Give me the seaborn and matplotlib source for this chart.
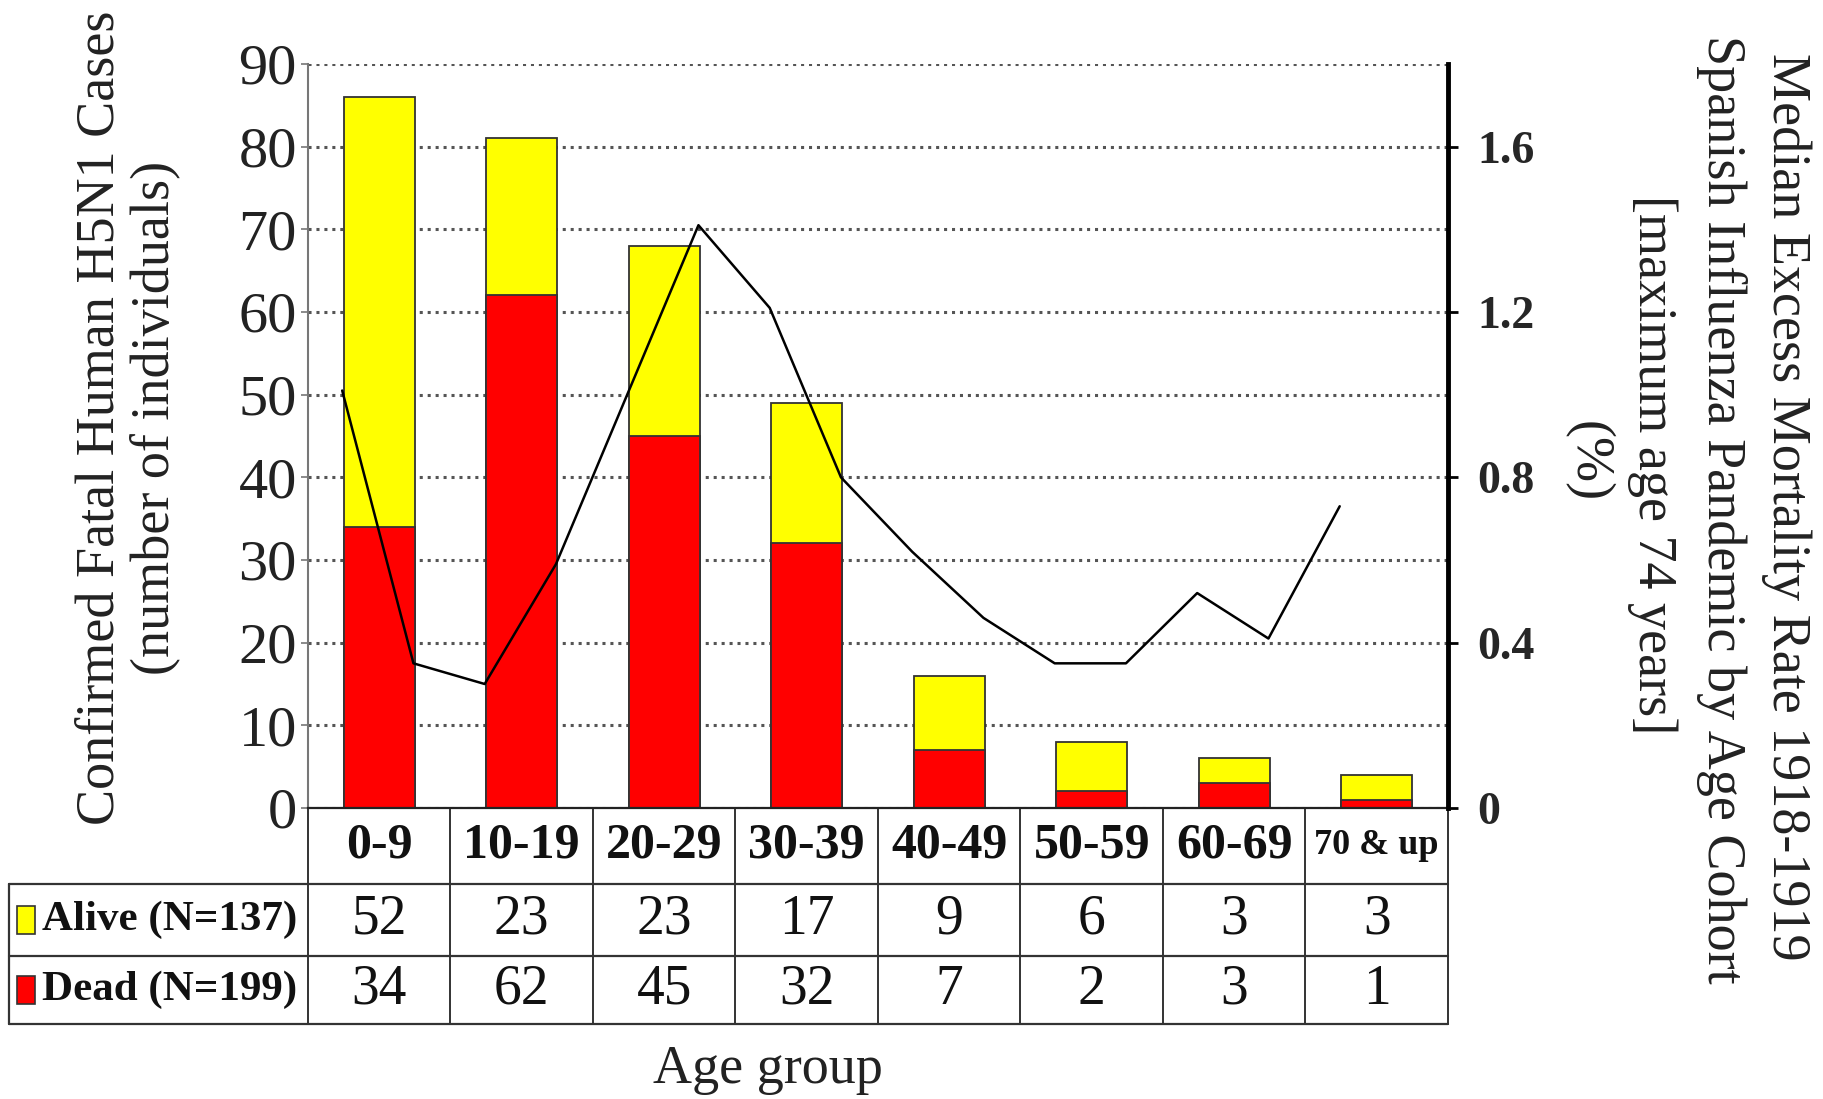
import numpy as np
import pandas as pd
import matplotlib
matplotlib.use("Agg")
import matplotlib.pyplot as plt
import matplotlib.transforms as mtransforms
from matplotlib.patches import Rectangle
from matplotlib.lines import Line2D
import seaborn as sns

# ---------------- data ----------------
age_groups = ["0-9", "10-19", "20-29", "30-39", "40-49", "50-59", "60-69", "70 & up"]
alive_counts = [52, 23, 23, 17, 9, 6, 3, 3]          # table row "Alive"
dead_counts = [34, 62, 45, 32, 7, 2, 3, 1]           # table row "Dead"
alive_bar_heights = [52, 19, 23, 17, 9, 6, 3, 3]     # yellow segments as drawn
row_labels = ["Alive (N=137)", "Dead (N=199)"]
cohort_start_age = [0, 5, 10, 15, 20, 25, 30, 35, 40, 45, 50, 55, 60, 65, 70]
excess_mortality = [1.01, 0.35, 0.30, 0.59, 1.00, 1.41, 1.21, 0.80,
                    0.62, 0.46, 0.35, 0.35, 0.52, 0.41, 0.73]
left_ticks = [0, 10, 20, 30, 40, 50, 60, 70, 80, 90]
right_ticks = [0, 0.4, 0.8, 1.2, 1.6]

# ---------------- style ----------------
sns.set_theme(style="white")
plt.rcParams["font.family"] = ["Liberation Serif", "DejaVu Serif"]

W, H = 1824, 1099
fig = plt.figure(figsize=(W / 100, H / 100), dpi=100)
# axes box in pixels
ax_l, ax_r, ax_t, ax_b = 308, 1448, 64, 808
ax = fig.add_axes([ax_l / W, 1 - ax_b / H, (ax_r - ax_l) / W, (ax_b - ax_t) / H])

df = pd.DataFrame({
    "group": age_groups,
    "total": np.array(dead_counts) + np.array(alive_bar_heights),
    "dead": dead_counts,
})
sns.barplot(data=df, x="group", y="total", color="#FFFF00", saturation=1,
            width=0.5, edgecolor="#333333", linewidth=1.3, ax=ax)
sns.barplot(data=df, x="group", y="dead", color="#FF0000", saturation=1,
            width=0.5, edgecolor="#333333", linewidth=1.3, ax=ax)

ax.set_xlim(-0.5, 7.5)
ax.set_ylim(0, 90)
ax.set_yticks(left_ticks)
ax.set_yticklabels([str(t) for t in left_ticks], fontsize=42, color="#222222")
ax.tick_params(axis="y", direction="out", length=5, width=1.2, color="#777777", pad=3, left=True)
ax.tick_params(axis="x", length=0, labelbottom=False)
ax.set_xlabel("")
ax.set_ylabel("")
ax.set_axisbelow(True)
ax.yaxis.grid(True, linestyle=(0, (1, 1.6)), color="#555555", linewidth=2.2)
ax.xaxis.grid(False)
for s in ["top", "right"]:
    ax.spines[s].set_visible(False)
ax.spines["left"].set_color("#777777")
ax.spines["left"].set_linewidth(1.5)
ax.spines["bottom"].set_color("#222222")
ax.spines["bottom"].set_linewidth(1.6)

# secondary axis: excess mortality line
ax2 = ax.twinx()
line_x = [a / 10 - 0.26 for a in cohort_start_age]
sns.lineplot(x=line_x, y=excess_mortality, ax=ax2, color="black", linewidth=1.8)
ax2.set_xlim(-0.5, 7.5)
ax2.set_ylim(0, 1.8)
ax2.set_yticks(right_ticks)
ax2.set_yticklabels(["0", "0.4", "0.8", "1.2", "1.6"], fontsize=33, fontweight="bold")
ax2.tick_params(axis="y", direction="out", length=7, width=2, color="black", pad=14, right=True)
ax2.set_ylabel("")
for s in ["top", "left", "bottom"]:
    ax2.spines[s].set_visible(False)
ax2.spines["right"].set_color("black")
ax2.spines["right"].set_linewidth(3.5)

# ---------------- table under the axes ----------------
blend = mtransforms.blended_transform_factory(ax.transData, ax.transAxes)
ax_h = ax_b - ax_t
col_w = (ax_r - ax_l) / 8.0

def ay(py):
    return (ax_b - py) / ax_h

def dx(px):
    return -0.5 + (px - ax_l) / col_w

y_head = ay(884)
y_mid = ay(956)
y_bot = ay(1024)
x_left = dx(9)
lc = "#333333"
for yy in (y_head, y_mid, y_bot):
    ax.add_line(Line2D([x_left, 7.5], [yy, yy], transform=blend, color=lc, lw=1.6, clip_on=False))
for i in range(9):
    ax.add_line(Line2D([-0.5 + i, -0.5 + i], [0, y_bot], transform=blend, color=lc, lw=1.4, clip_on=False))
ax.add_line(Line2D([x_left, x_left], [y_head, y_bot], transform=blend, color=lc, lw=1.6, clip_on=False))

for i, g in enumerate(age_groups):
    ax.text(i, (0 + y_head) / 2, g, transform=blend, ha="center", va="center",
            fontsize=26 if g == "70 & up" else 36, fontweight="bold", color="#111111")
    ax.text(i, (y_head + y_mid) / 2, str(alive_counts[i]), transform=blend,
            ha="center", va="center", fontsize=40, color="#111111")
    ax.text(i, (y_mid + y_bot) / 2, str(dead_counts[i]), transform=blend,
            ha="center", va="center", fontsize=40, color="#111111")

marker_colors = ["#FFFF00", "#FF0000"]
row_tops = [y_head, y_mid]
row_bots = [y_mid, y_bot]
for k, lab in enumerate(row_labels):
    ymid = (row_tops[k] + row_bots[k]) / 2
    mh = 28 / ax_h
    ax.add_patch(Rectangle((dx(17), ymid - mh / 2), dx(35) - dx(17), mh, transform=blend,
                           facecolor=marker_colors[k], edgecolor="#333333", lw=1.2, clip_on=False))
    ax.text(dx(42), ymid, lab, transform=blend, ha="left", va="center",
            fontsize=31, fontweight="bold", color="#111111")

# ---------------- axis titles ----------------
fig.text(128 / W, 1 - 418 / H, "Confirmed Fatal Human H5N1 Cases\n(number of individuals)",
         rotation=90, ha="center", va="center", multialignment="center",
         fontsize=39, linespacing=1.1, color="#222222")
right_lines = [("Median Excess Mortality Rate 1918-1919", 1786, 507),
               ("Spanish Influenza Pandemic by Age Cohort", 1722, 509),
               ("[maximum age 74 years]", 1652, 465),
               ("(%)", 1588, 462)]
for txt, px, py in right_lines:
    fig.text(px / W, 1 - py / H, txt, rotation=270, ha="center", va="center",
             fontsize=39, color="#222222")
fig.text(768 / W, 1 - 1070 / H, "Age group", ha="center", va="center", fontsize=39, color="#222222")

fig.savefig("out.png", dpi=100, facecolor="white")
